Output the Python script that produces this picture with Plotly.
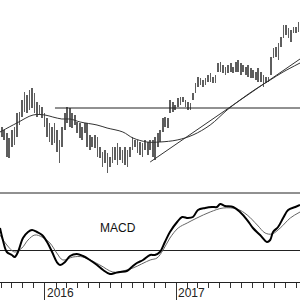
import plotly.graph_objects as go
import pandas as pd

# ---- weekly price bars (high / low) ----
bar_start = "2015-09-03"
highs = [73, 70, 67, 62, 70, 73, 87, 88, 100, 108, 105, 110, 112, 107, 98, 95, 93, 87, 82, 77,
         73, 77, 70, 60, 73, 87, 93, 92, 87, 85, 78, 77,
         73, 77, 77, 65, 63, 65, 63, 53, 48, 50, 47, 43, 53, 53, 57, 53, 50, 53, 50, 53, 63, 60, 60, 58, 57, 60, 58, 60,
         60, 63, 67, 70, 82, 83, 82, 100, 98, 95, 102, 103, 103, 100, 98, 97, 107, 117, 123, 122,
         120, 122, 125, 127, 123, 125, 137, 138, 135, 133, 135, 137, 133, 138, 140, 137, 135, 133, 135, 132,
         130, 128, 132, 128, 125, 123, 123, 143, 152, 153, 157, 163, 175, 175, 172, 170, 173, 173, 178]
lows = [63, 60, 43, 42, 53, 55, 63, 75, 83, 88, 87, 90, 92, 87, 83, 85, 82, 73, 63, 58,
        55, 57, 48, 37, 53, 70, 77, 73, 72, 75, 67, 62,
        60, 67, 53, 50, 53, 52, 43, 42, 33, 37, 27, 33, 37, 40, 35, 40, 37, 35, 33, 43, 50, 53, 47, 45, 43, 50, 45, 50,
        43, 40, 53, 58, 68, 73, 72, 87, 88, 90, 93, 95, 98, 93, 90, 90, 100, 107, 113, 115,
        113, 115, 118, 118, 117, 117, 128, 128, 127, 125, 127, 128, 127, 128, 128, 125, 128, 125, 123, 122,
        122, 120, 118, 118, 113, 117, 118, 125, 142, 143, 140, 153, 162, 165, 162, 158, 167, 167, 168]
bar_dates = pd.date_range(bar_start, periods=len(highs), freq="7D")

# ---- moving average ----
ma_dates = ["2015-08-29", "2015-10-15", "2015-11-29", "2016-01-01", "2016-01-23", "2016-02-17",
            "2016-03-11", "2016-04-08", "2016-05-25", "2016-06-22", "2016-08-05", "2016-09-02",
            "2016-10-11", "2016-11-16", "2017-01-03", "2017-02-16", "2017-04-05", "2017-05-22",
            "2017-06-27", "2017-08-14", "2017-09-19", "2017-10-25", "2017-12-11"]
ma_values = [68, 77, 85, 85, 83, 81, 81, 78, 75, 72, 68, 62, 58, 58, 60, 65, 75, 90, 100, 112, 120, 128, 137]

# ---- trend line and horizontal level ----
trend_dates = ["2016-10-20", "2017-12-11"]
trend_values = [38, 141]
level_dates = ["2016-01-29", "2017-12-11"]
level_values = [92, 92]

# ---- MACD panel ----
macd_dates = ["2015-08-29", "2015-09-06", "2015-09-17", "2015-10-01", "2015-10-09", "2015-10-18",
              "2015-11-01", "2015-11-15", "2015-11-26", "2015-12-10", "2015-12-24", "2016-01-07",
              "2016-01-21", "2016-02-03", "2016-02-12", "2016-02-26", "2016-03-11", "2016-03-30",
              "2016-04-16", "2016-05-05", "2016-05-25", "2016-06-11", "2016-06-30", "2016-07-14",
              "2016-07-28", "2016-08-16", "2016-08-30", "2016-09-13", "2016-09-30", "2016-10-20",
              "2016-11-02", "2016-11-16", "2016-11-30", "2016-12-14", "2017-01-03", "2017-01-17",
              "2017-02-02", "2017-02-16", "2017-03-02", "2017-03-22", "2017-04-10", "2017-04-24",
              "2017-05-03", "2017-05-16", "2017-06-08", "2017-06-27", "2017-07-17", "2017-08-02",
              "2017-08-22", "2017-09-10", "2017-09-19", "2017-09-27", "2017-10-11", "2017-10-25",
              "2017-11-08", "2017-11-28", "2017-12-11"]
macd_values = [1.1, 0.5, -0.1, -0.25, -0.35, -0.1, 0.6, 0.9, 1.0, 0.9, 0.75, 0.4,
               -0.1, -0.6, -0.75, -0.6, -0.3, -0.2, -0.3, -0.5, -0.75, -1.0, -1.2, -1.15,
               -1.1, -1.05, -0.85, -0.65, -0.5, -0.25, -0.25, -0.1, 0.4, 0.9, 1.4, 1.65,
               1.6, 1.65, 2.0, 2.1, 2.15, 2.15, 2.3, 2.2, 2.15, 1.9, 1.5, 1.1,
               0.75, 0.4, 0.5, 0.9, 1.15, 1.6, 2.0, 2.15, 2.25]
signal_dates = ["2015-08-29", "2015-09-17", "2015-10-09", "2015-10-29", "2015-11-15", "2015-12-04",
                "2015-12-24", "2016-01-15", "2016-02-03", "2016-02-20", "2016-03-19", "2016-04-16",
                "2016-06-02", "2016-07-08", "2016-08-05", "2016-09-02", "2016-10-20", "2016-11-08",
                "2016-11-25", "2016-12-14", "2017-01-06", "2017-01-31", "2017-02-27", "2017-04-05",
                "2017-05-11", "2017-06-19", "2017-07-17", "2017-08-14", "2017-09-05", "2017-09-24",
                "2017-10-17", "2017-11-14", "2017-12-11"]
signal_values = [0.75, 0.25, -0.1, 0.1, 0.5, 0.75, 0.65, 0.35, -0.15, -0.5, -0.35, -0.35,
                 -0.75, -1.1, -1.05, -0.9, -0.5, -0.4, 0.0, 0.6, 1.1, 1.35, 1.6, 1.9,
                 2.1, 2.05, 1.75, 1.25, 0.85, 0.8, 1.1, 1.6, 1.9]

year_labels = ["2016", "2017"]
year_dates = ["2016-01-01", "2017-01-01"]

FONT = "Liberation Sans, Arial, sans-serif"

fig = go.Figure()
fig.add_trace(go.Bar(
    x=bar_dates, y=[h - l for h, l in zip(highs, lows)], base=lows,
    width=1.7e8, marker=dict(color="#5e5e5e", line=dict(width=0)),
    xaxis="x", yaxis="y"))
fig.add_trace(go.Scatter(x=ma_dates, y=ma_values, mode="lines",
                         line=dict(color="#333333", width=1, shape="spline"),
                         xaxis="x", yaxis="y"))
fig.add_trace(go.Scatter(x=trend_dates, y=trend_values, mode="lines",
                         line=dict(color="#333333", width=1), xaxis="x", yaxis="y"))
fig.add_trace(go.Scatter(x=level_dates, y=level_values, mode="lines",
                         line=dict(color="#222222", width=1), xaxis="x", yaxis="y"))
fig.add_trace(go.Scatter(x=signal_dates, y=signal_values, mode="lines",
                         line=dict(color="#666666", width=1, shape="spline"),
                         xaxis="x", yaxis="y2"))
fig.add_trace(go.Scatter(x=macd_dates, y=macd_values, mode="lines",
                         line=dict(color="#000000", width=2, shape="spline"),
                         xaxis="x", yaxis="y2"))

annotations = [dict(text="MACD", x="2016-07-22", y=1.1, xref="x", yref="y2",
                    showarrow=False, font=dict(family=FONT, size=12, color="#111"))]
for lab, d in zip(year_labels, year_dates):
    annotations.append(dict(text=lab, x=d, y=-0.0405, xref="x", yref="paper",
                            xanchor="left", yanchor="middle", xshift=1, showarrow=False,
                            borderpad=0,
                            font=dict(family=FONT, size=12, color="#222")))

fig.update_layout(
    width=300, height=300,
    margin=dict(l=0, r=0, t=0, b=18, pad=0),
    paper_bgcolor="white", plot_bgcolor="white",
    showlegend=False,
    xaxis=dict(type="date", range=["2015-08-29", "2017-12-11"], domain=[0, 1], anchor="y2",
               showline=True, linecolor="#222", linewidth=1,
               ticks="outside", ticklen=18, tickwidth=1, tickcolor="#333",
               dtick="M12", tick0="2016-01-01", showticklabels=False,
               showgrid=False, zeroline=False,
               minor=dict(ticks="outside", ticklen=5, dtick="M1", tick0="2016-01-01",
                          tickcolor="#333", tickwidth=1, showgrid=False)),
    yaxis=dict(domain=[0.3298, 1], range=[11, 200], visible=False),
    yaxis2=dict(domain=[0, 0.3156], range=[-1.6, 2.85], showgrid=False, showticklabels=False,
                showline=False, ticks="", zeroline=True, zerolinecolor="#222", zerolinewidth=1),
    shapes=[dict(type="line", xref="paper", x0=0, x1=1, yref="y2 domain", y0=1, y1=1,
                 line=dict(color="#222", width=1))],
    annotations=annotations,
)

fig.write_html("out.html")
